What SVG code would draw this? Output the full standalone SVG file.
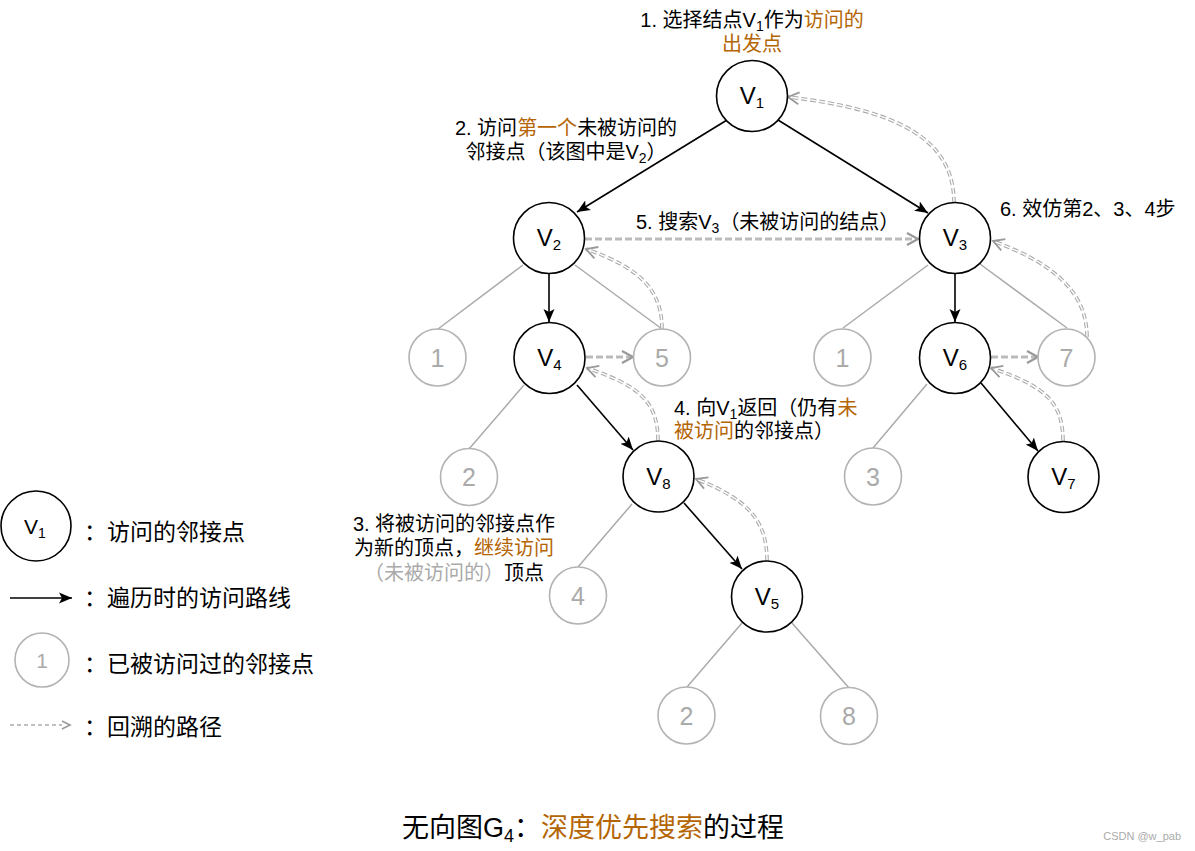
<svg xmlns="http://www.w3.org/2000/svg" width="1195" height="851" viewBox="0 0 1195 851">
<style>
text{font-family:'Liberation Sans','Noto Sans CJK SC',sans-serif;}
.n{fill:#fff;stroke:#000;stroke-width:1.6;}
.g{fill:#fff;stroke:#b3b3b3;stroke-width:1.6;}
.lbl{font-size:24px;fill:#000;}
.sub{font-size:15px;}
.glbl{font-size:25px;fill:#aaa;}
.t{font-size:20px;fill:#000;}
.b{fill:#b46504;}
.tree{stroke:#aaa;stroke-width:1.5;fill:none;}
.arr{stroke:#000;stroke-width:1.6;fill:none;marker-end:url(#ah);}
.dsh{stroke:#bbb;stroke-width:3;stroke-dasharray:7 3;fill:none;}
.dmk{stroke:none;fill:none;marker-end:url(#oh);}
.dbo{stroke:#aaa;stroke-width:3.6;stroke-dasharray:6 3;fill:none;}
.dbi{stroke:#fff;stroke-width:1.4;stroke-dasharray:6 3;fill:none;}
.cmk{stroke:none;fill:none;marker-end:url(#ch);}
</style>
<defs>
<marker id="ah" markerUnits="userSpaceOnUse" markerWidth="15" markerHeight="12" refX="13" refY="5.5" orient="auto" viewBox="0 0 15 11">
<path d="M0,0 L13,5.5 L0,11 L3,5.5 z" fill="#000"/>
</marker>
<marker id="oh" markerUnits="userSpaceOnUse" markerWidth="16" markerHeight="16" refX="12" refY="7" orient="auto" viewBox="0 0 16 14">
<path d="M1,1 L12,7 L1,13" fill="none" stroke="#999" stroke-width="2.2"/>
</marker>
<marker id="ch" markerUnits="userSpaceOnUse" markerWidth="16" markerHeight="16" refX="12" refY="7" orient="auto" viewBox="0 0 16 14">
<path d="M1,1 L12,7 L1,13" fill="none" stroke="#999" stroke-width="1.8"/>
</marker>
<marker id="lh" markerUnits="userSpaceOnUse" markerWidth="12" markerHeight="12" refX="9" refY="5" orient="auto" viewBox="0 0 12 10">
<path d="M1,1 L9,5 L1,9" fill="none" stroke="#999" stroke-width="1.6"/>
</marker>
</defs>
<rect width="1195" height="851" fill="#fff"/>

<g id="connectors">
<path class="tree" d="M523,265 L438,329"/>
<path class="tree" d="M575,265 L662,329"/>
<path class="tree" d="M524,385 L469,449"/>
<path class="tree" d="M632,504 L578,567"/>
<path class="tree" d="M742,623 L687,687"/>
<path class="tree" d="M792,623 L849,688"/>
<path class="tree" d="M928,265 L843,328"/>
<path class="tree" d="M980,264 L1067,328"/>
<path class="tree" d="M927,384 L873,448"/>
<path class="arr" d="M727,120 L577,212"/>
<path class="arr" d="M778,120 L928,213"/>
<path class="arr" d="M549,273 L549,322"/>
<path class="arr" d="M577,385 L633,450"/>
<path class="arr" d="M684,503 L742,569"/>
<path class="arr" d="M955,273 L955,322"/>
<path class="arr" d="M981,383 L1038,451"/>
<path class="dsh" d="M585,239 L917,239"/><path class="dmk" d="M585,239 L918,239"/>
<path class="dsh" d="M586,357 L632,357"/><path class="dmk" d="M586,357 L633,357"/>
<path class="dsh" d="M991,357 L1037,357"/><path class="dmk" d="M991,357 L1038,357"/>
<g id="ret-5-v2"><path class="dbo" d="M662,329 C662,290 640,268 586,249"/><path class="dbi" d="M662,329 C662,290 640,268 586,249"/><path class="cmk" d="M662,329 C662,290 640,268 586,249"/></g>
<g id="ret-v8-v4"><path class="dbo" d="M658,441 C658,402 640,386 587,368"/><path class="dbi" d="M658,441 C658,402 640,386 587,368"/><path class="cmk" d="M658,441 C658,402 640,386 587,368"/></g>
<g id="ret-v5-v8"><path class="dbo" d="M767,561 C767,522 750,500 696,479"/><path class="dbi" d="M767,561 C767,522 750,500 696,479"/><path class="cmk" d="M767,561 C767,522 750,500 696,479"/></g>
<g id="ret-v7-v6"><path class="dbo" d="M1063,441 C1063,402 1045,386 991,368"/><path class="dbi" d="M1063,441 C1063,402 1045,386 991,368"/><path class="cmk" d="M1063,441 C1063,402 1045,386 991,368"/></g>
<g id="ret-7-v3"><path class="dbo" d="M1087,337 C1087,290 1050,262 993,241"/><path class="dbi" d="M1087,337 C1087,290 1050,262 993,241"/><path class="cmk" d="M1087,337 C1087,290 1050,262 993,241"/></g>
<g id="ret-v3-v1"><path class="dbo" d="M954,203 C954,140 900,110 788,97"/><path class="dbi" d="M954,203 C954,140 900,110 788,97"/><path class="cmk" d="M954,203 C954,140 900,110 788,97"/></g>
</g>

<g id="V1"><circle class="n" cx="752" cy="96" r="35.5"/><text class="lbl" x="752" y="104" text-anchor="middle">V<tspan class="sub" dy="4">1</tspan></text></g>
<g id="V2"><circle class="n" cx="549" cy="238" r="35.5"/><text class="lbl" x="549" y="246" text-anchor="middle">V<tspan class="sub" dy="4">2</tspan></text></g>
<g id="V3"><circle class="n" cx="955" cy="238" r="35.5"/><text class="lbl" x="955" y="246" text-anchor="middle">V<tspan class="sub" dy="4">3</tspan></text></g>
<g id="V4"><circle class="n" cx="549.5" cy="358" r="35.5"/><text class="lbl" x="549.5" y="366" text-anchor="middle">V<tspan class="sub" dy="4">4</tspan></text></g>
<g id="V6"><circle class="n" cx="955" cy="358" r="35.5"/><text class="lbl" x="955" y="366" text-anchor="middle">V<tspan class="sub" dy="4">6</tspan></text></g>
<g id="V8"><circle class="n" cx="658.5" cy="476.5" r="35.5"/><text class="lbl" x="658.5" y="484.5" text-anchor="middle">V<tspan class="sub" dy="4">8</tspan></text></g>
<g id="V7"><circle class="n" cx="1063.5" cy="477" r="35.5"/><text class="lbl" x="1063.5" y="485" text-anchor="middle">V<tspan class="sub" dy="4">7</tspan></text></g>
<g id="V5"><circle class="n" cx="767" cy="596.5" r="35.5"/><text class="lbl" x="767" y="604.5" text-anchor="middle">V<tspan class="sub" dy="4">5</tspan></text></g>

<g id="n1a"><circle class="g" cx="437.5" cy="357.5" r="28.5"/><text class="glbl" x="437.5" y="366.5" text-anchor="middle">1</text></g>
<g id="n5"><circle class="g" cx="662" cy="357.5" r="28.5"/><text class="glbl" x="662" y="366.5" text-anchor="middle">5</text></g>
<g id="n2a"><circle class="g" cx="469" cy="477" r="28.5"/><text class="glbl" x="469" y="486" text-anchor="middle">2</text></g>
<g id="n1b"><circle class="g" cx="842.5" cy="357.5" r="28.5"/><text class="glbl" x="842.5" y="366.5" text-anchor="middle">1</text></g>
<g id="n7"><circle class="g" cx="1066.5" cy="357.5" r="28.5"/><text class="glbl" x="1066.5" y="366.5" text-anchor="middle">7</text></g>
<g id="n3"><circle class="g" cx="873" cy="476.5" r="28.5"/><text class="glbl" x="873" y="485.5" text-anchor="middle">3</text></g>
<g id="n4"><circle class="g" cx="578" cy="595.5" r="28.5"/><text class="glbl" x="578" y="604.5" text-anchor="middle">4</text></g>
<g id="n2b"><circle class="g" cx="686.5" cy="715.5" r="28.5"/><text class="glbl" x="686.5" y="724.5" text-anchor="middle">2</text></g>
<g id="n8"><circle class="g" cx="849" cy="716" r="28.5"/><text class="glbl" x="849" y="725" text-anchor="middle">8</text></g>

<g id="notes">
<text class="t" x="752" y="27" text-anchor="middle">1. 选择结点V<tspan font-size="14" dy="4">1</tspan><tspan dy="-4">作为</tspan><tspan class="b">访问的</tspan></text>
<text class="t b" x="752" y="51" text-anchor="middle">出发点</text>
<text class="t" x="566" y="135" text-anchor="middle">2. 访问<tspan class="b">第一个</tspan>未被访问的</text>
<text class="t" x="566" y="159" text-anchor="middle">邻接点（该图中是V<tspan font-size="14" dy="4">2</tspan><tspan dy="-4">）</tspan></text>
<text class="t" x="636" y="229">5. 搜索V<tspan font-size="14" dy="4">3</tspan><tspan dy="-4">（未被访问的结点）</tspan></text>
<text class="t" x="1000" y="216">6. 效仿第2、3、4步</text>
<text class="t" x="674" y="415">4. 向V<tspan font-size="14" dy="4">1</tspan><tspan dy="-4">返回（仍有</tspan><tspan class="b">未</tspan></text>
<text class="t" x="674" y="438"><tspan class="b">被访问</tspan>的邻接点）</text>
<text class="t" x="454" y="531" text-anchor="middle">3. 将被访问的邻接点作</text>
<text class="t" x="454" y="555" text-anchor="middle">为新的顶点，<tspan class="b">继续访问</tspan></text>
<text class="t" x="454" y="580" text-anchor="middle"><tspan fill="#aaa">（未被访问的）</tspan>顶点</text>
</g>

<g id="legend">
<circle class="n" cx="36" cy="526" r="35"/>
<text x="35" y="534" text-anchor="middle" font-size="21">V<tspan font-size="14" dy="4">1</tspan></text>
<path d="M10,598 L72,598" stroke="#000" stroke-width="1.6" marker-end="url(#ah)"/>
<circle class="g" cx="42" cy="660" r="27"/>
<text x="42" y="668" text-anchor="middle" font-size="21" fill="#aaa">1</text>
<path d="M10,725 L62,725" stroke="#aaa" stroke-width="1.5" stroke-dasharray="4 3" fill="none"/>
<path d="M10,725 L70,725" stroke="none" fill="none" marker-end="url(#lh)"/>
<text x="84" y="540" font-size="23">：</text><text x="107" y="540" font-size="23">访问的邻接点</text>
<text x="84" y="606" font-size="23">：</text><text x="107" y="606" font-size="23">遍历时的访问路线</text>
<text x="84" y="672" font-size="23">：</text><text x="107" y="672" font-size="23">已被访问过的邻接点</text>
<text x="84" y="735" font-size="23">：</text><text x="107" y="735" font-size="23">回溯的路径</text>
</g>

<text x="593" y="837" text-anchor="middle" font-size="27">无向图G<tspan font-size="18" dy="5">4</tspan><tspan dy="-5">：</tspan><tspan class="b">深度优先搜索</tspan>的过程</text>
<text x="1181" y="840" text-anchor="end" font-size="11" fill="#aaa">CSDN @w_pab</text>
</svg>
